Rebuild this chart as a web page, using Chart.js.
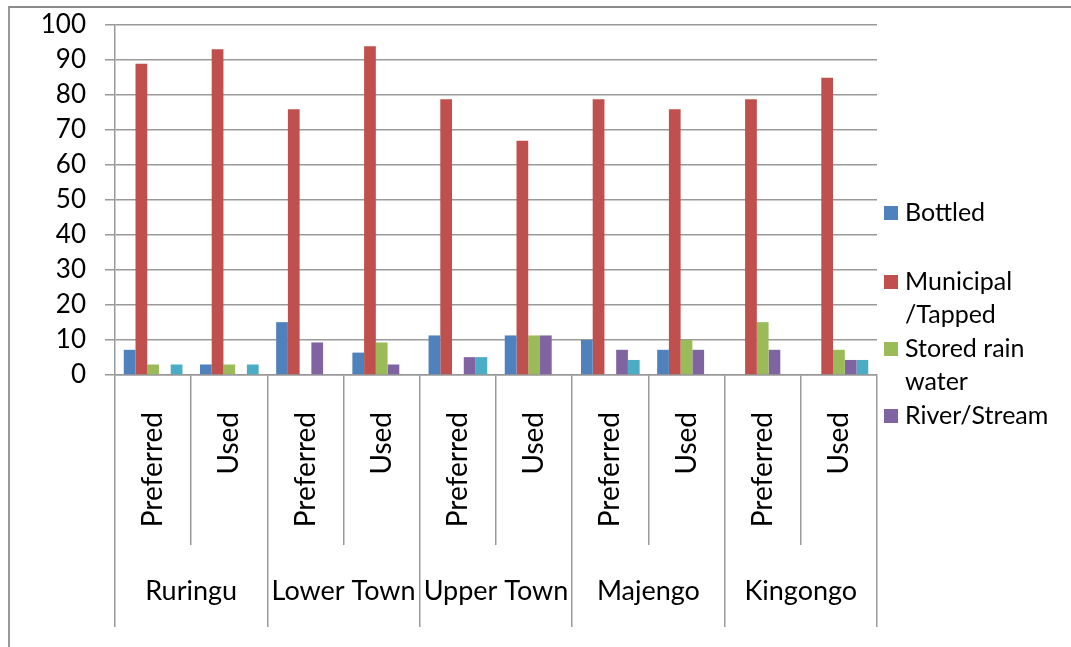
<!DOCTYPE html>
<html>
<head>
<meta charset="utf-8">
<script src="https://cdn.jsdelivr.net/npm/chart.js@4"></script>
<style>
  body { margin: 0; background: #fff; overflow: hidden; }
  #wrap { position: relative; width: 1071px; height: 647px; }
  #frame { position: absolute; left: 8px; top: 6px; right: 0; bottom: 0;
           border-top: 2px solid #8a8a8a; border-left: 2px solid #9a9a9a; pointer-events: none; }
</style>
</head>
<body>
<div id="wrap">
  <canvas id="myChart"></canvas>
  <div id="frame"></div>
</div>
<script>
const subLabels = ['Preferred', 'Used', 'Preferred', 'Used', 'Preferred', 'Used', 'Preferred', 'Used', 'Preferred', 'Used'];
const towns = ['Ruringu', 'Lower Town', 'Upper Town', 'Majengo', 'Kingongo'];

const bottled   = [7.2, 3, 15.1, 6.4, 11.3, 11.3, 10, 7.2, 0, 0];
const municipal = [88.9, 93.1, 75.9, 93.9, 78.8, 66.9, 78.8, 75.9, 78.8, 84.9];
const stored    = [3, 3, 0, 9.3, 0, 11.3, 0, 10, 15.1, 7.2];
const river     = [0, 0, 9.3, 3, 5.1, 11.3, 7.2, 7.2, 7.2, 4.3];
const other     = [3, 3, 0, 0, 5.1, 0, 4.3, 0, 0, 4.3];

const yTicks = [0, 10, 20, 30, 40, 50, 60, 70, 80, 90, 100];

// legend is cut off in the original, only 4 entries visible
const legendItems = [
    {lines: ['Bottled'], y: 213},
    {lines: ['Municipal', '/Tapped'], y: 282},
    {lines: ['Stored rain', 'water'], y: 349},
    {lines: ['River/Stream'], y: 416},
];

const FONT = 'Lato';
const gridColor = '#999999';

const legendPlugin = {
    id: 'sideLegend',
    afterDraw(chart) {
        const ctx = chart.ctx;
        ctx.save();
        ctx.font = '25px ' + FONT;
        ctx.textBaseline = 'middle';
        ctx.textAlign = 'left';
        legendItems.forEach((item, i) => {
            ctx.fillStyle = chart.data.datasets[i].backgroundColor;
            ctx.fillRect(884, item.y - 7, 14, 14);
            ctx.fillStyle = '#000';
            item.lines.forEach((ln, j) => {
                ctx.fillText(ln, 905, item.y + j * 33);
            });
        });
        ctx.restore();
    }
};

const ctx = document.getElementById('myChart').getContext('2d');
const myChart = new Chart(ctx, {
    type: 'bar',
    data: {
        labels: subLabels,
        datasets: [
            {label: 'Bottled', data: bottled, backgroundColor: '#4F81BD'},
            {label: 'Municipal /Tapped', data: municipal, backgroundColor: '#C0504D'},
            {label: 'Stored rain water', data: stored, backgroundColor: '#9BBB59'},
            {label: 'River/Stream', data: river, backgroundColor: '#8064A2'},
            {label: 'Other', data: other, backgroundColor: '#4BACC6'},
        ]
    },
    options: {
        responsive: true,
        maintainAspectRatio: false,
        animation: false,
        layout: {padding: {top: 25, right: 194, bottom: 20, left: 0}},
        datasets: {bar: {categoryPercentage: 0.77, barPercentage: 1}},
        plugins: {
            legend: {display: false},
            tooltip: {enabled: false}
        },
        scales: {
            y: {
                min: 0,
                max: 100,
                afterBuildTicks: (scale) => { scale.ticks = yTicks.map(v => ({value: v})); },
                afterFit: (scale) => {
                    scale.width = 115;
                    scale.paddingTop = 0;
                    scale.paddingBottom = 0;
                },
                grid: {color: gridColor, lineWidth: 1.5, tickLength: 10},
                border: {color: gridColor, width: 1.5},
                ticks: {color: '#000', padding: 19, autoSkip: false, font: {family: FONT, size: 26}}
            },
            x: {
                offset: true,
                afterFit: (scale) => { scale.height = 170; },
                grid: {offset: true, drawOnChartArea: false, color: gridColor, lineWidth: 1.5, tickLength: 170},
                border: {color: gridColor, width: 1.5},
                ticks: {color: '#000', padding: -133, minRotation: 90, maxRotation: 90, autoSkip: false,
                        font: {family: FONT, size: 28}}
            },
            x2: {
                type: 'category',
                labels: towns,
                position: 'bottom',
                offset: true,
                afterFit: (scale) => { scale.height = 82; },
                grid: {offset: true, drawOnChartArea: false, color: gridColor, lineWidth: 1.5, tickLength: 82},
                border: {display: false},
                ticks: {color: '#000', padding: -52, maxRotation: 0, autoSkip: false,
                        font: {family: FONT, size: 27}}
            }
        }
    },
    plugins: [legendPlugin]
});
</script>
</body>
</html>
